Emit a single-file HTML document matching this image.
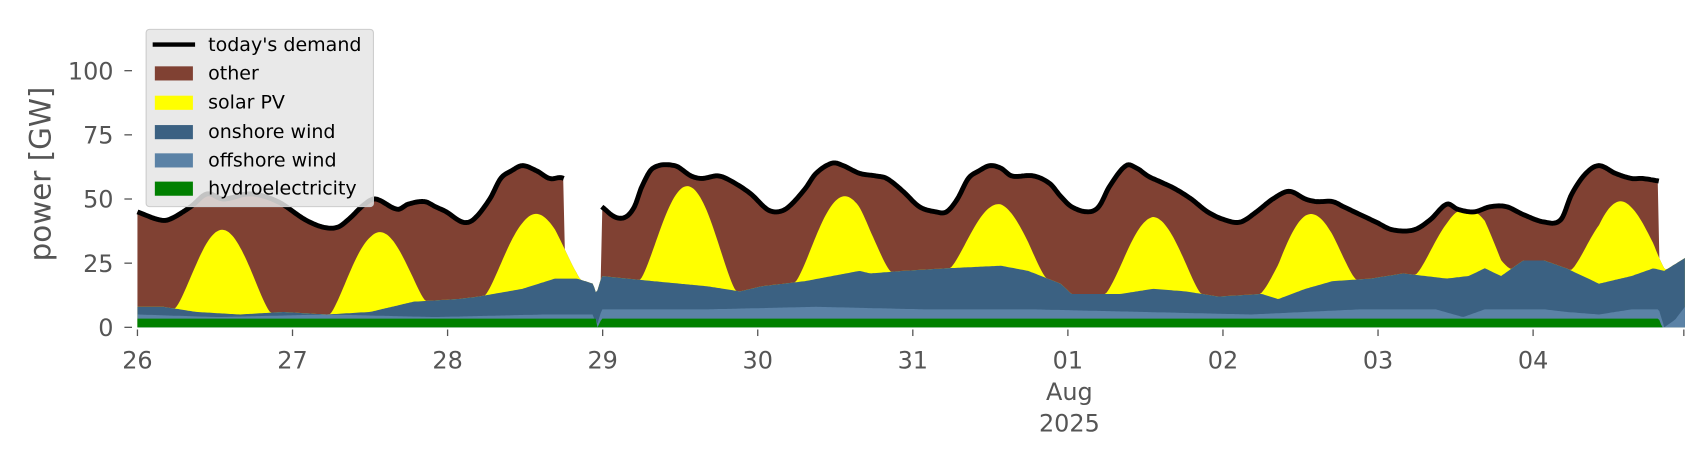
<!DOCTYPE html>
<html><head><meta charset="utf-8"><style>
html,body{margin:0;padding:0;background:#fff}
svg{display:block}
text{font-family:"DejaVu Sans","Liberation Sans",sans-serif}
</style></head><body>
<svg id="s" width="1706" height="460" viewBox="0 0 1568 423" xmlns="http://www.w3.org/2000/svg">
<g id="plot"></g>
<g fill="#555" font-size="22">
<g text-anchor="end">
<text x="104" y="309">0</text>
<text x="104" y="250">25</text>
<text x="104" y="191">50</text>
<text x="104" y="132">75</text>
<text x="104" y="73">100</text>
</g>
<g stroke="#555" stroke-width="1.2">
<line x1="114" y1="301" x2="121" y2="301"/><line x1="114" y1="242" x2="121" y2="242"/><line x1="114" y1="183" x2="121" y2="183"/><line x1="114" y1="124" x2="121" y2="124"/><line x1="114" y1="65" x2="121" y2="65"/>
</g>
<text transform="translate(46,160) rotate(-90)" text-anchor="middle" font-size="27">power [GW]</text>
<g id="xt" text-anchor="middle"></g>
<text x="983" y="368" text-anchor="middle">Aug</text>
<text x="983" y="397" text-anchor="middle">2025</text>
</g>
<g id="leg">
<rect x="134" y="27" width="209" height="163" rx="3" fill="#e5e5e5" fill-opacity="0.85" stroke="#cccccc" stroke-width="1"/>
<line x1="140" y1="41" x2="179" y2="41" stroke="#000" stroke-width="4"/>
<rect x="142" y="61" width="35" height="13" fill="#804133"/>
<rect x="142" y="88" width="35" height="13" fill="#ffff00"/>
<rect x="142" y="115" width="35" height="13" fill="#3b6182"/>
<rect x="142" y="141" width="35" height="13" fill="#5b82a6"/>
<rect x="142" y="167" width="35" height="13" fill="#008000"/>
<g font-size="17.5" fill="#000">
<text x="191" y="47">today's demand</text>
<text x="191" y="73">other</text>
<text x="191" y="100">solar PV</text>
<text x="191" y="127">onshore wind</text>
<text x="191" y="153">offshore wind</text>
<text x="191" y="179">hydroelectricity</text>
</g>
</g>
</svg>
<script>
(function(){
var NS="http://www.w3.org/2000/svg";
var X0=126,DAY=142.6,Y0=301,K=2.36;
function Y(v){return Y0-v*K;}
function interp(a,x){if(x<=a[0][0])return a[0][1];for(var i=1;i<a.length;i++){if(x<=a[i][0]){var t=(x-a[i-1][0])/(a[i][0]-a[i-1][0]);return a[i-1][1]+t*(a[i][1]-a[i-1][1]);}}return a[a.length-1][1];}
function spline(a,x){if(x<=a[0][0])return a[0][1];for(var i=1;i<a.length;i++){if(x<=a[i][0]){var x1=a[i-1][0],x2=a[i][0],y1=a[i-1][1],y2=a[i][1];var h=x2-x1,t=(x-x1)/h;
var m1=(i>=2)?(y2-a[i-2][1])/(x2-a[i-2][0]):(y2-y1)/h;var m2=(i+1<a.length)?(a[i+1][1]-y1)/(a[i+1][0]-x1):(y2-y1)/h;
if(x2-x1>30){m1=m2=(y2-y1)/h;}
var t2=t*t,t3=t2*t;return (2*t3-3*t2+1)*y1+(t3-2*t2+t)*h*m1+(-2*t3+3*t2)*y2+(t3-t2)*h*m2;}}return a[a.length-1][1];}
var dem=[[126,45],[145,42],[155,42],[175,47],[190,52],[205,50],[230,52],[255,49],[280,42],[297,39],[310,39],[320,42],[335,48],[345,50],[365,46],[375,48],[390,49],[400,47],[410,45],[425,41],[435,42],[450,50],[460,58],[470,61],[480,63],[493,61],[505,58],[518,58],
[553,47],[565,43],[575,43],[583,47],[590,55],[600,62],[620,63],[635,59],[645,58],[660,59],[672,57],[690,52],[705,46],[715,45],[725,47],[740,54],[750,60],[765,64],[775,63],[790,60],[805,59],[815,58],[830,53],[845,47],[860,45],[870,45],[880,50],[890,58],[900,61],[910,63],[920,62],[930,59],[950,59],[965,56],[975,51],[985,47],[1000,45],[1010,47],[1020,55],[1035,63],[1045,62],[1055,59],[1065,57],[1080,54],[1095,50],[1110,45],[1125,42],[1140,41],[1155,45],[1170,50],[1185,53],[1200,50],[1210,49],[1225,49],[1235,47],[1250,44],[1265,41],[1280,38],[1300,38],[1315,42],[1330,48],[1340,46],[1355,45],[1370,47],[1385,47],[1400,44],[1420,41],[1435,42],[1445,52],[1458,60],[1470,63],[1485,60],[1500,58],[1510,58],[1525,57]];
var ons=[[126,8],[150,8],[180,6],[220,5],[260,6],[300,5],[340,6],[380,10],[420,11],[440,12],[480,15],[510,19],[530,19],[545,17],[548,13],[553,20],[600,18],[650,16],[680,14],[700,16],[740,18],[790,22],[800,21],[830,22],[870,23],[920,24],[945,22],[975,17],[985,13],[1030,13],[1060,15],[1090,14],[1120,12],[1160,13],[1175,11],[1200,15],[1225,18],[1260,19],[1290,21],[1310,20],[1330,19],[1350,20],[1365,23],[1380,20],[1400,26],[1420,26],[1440,23],[1470,17],[1500,20],[1520,23],[1530,22],[1549,27]];
var off=[[126,5],[200,4],[300,5],[400,4],[500,5],[545,5],[548,0],[553,7],[650,7],[750,8],[850,7],[950,7],[1050,6],[1150,5],[1250,7],[1320,7],[1345,4],[1365,7],[1420,7],[1440,6],[1470,5],[1500,7],[1525,7],[1530,0],[1540,3],[1549,8]];
var hyd=[[126,3.4],[548,3.4],[549,0],[553,3.4],[1525,3.4],[1528,0],[1549,0]];
var peaks=[38,37,44,55,51,48,43,44,46,49];
function solar(x){var d=Math.floor((x-X0)/DAY);if(d<0||d>9)return 0;var f=(x-X0)/DAY-d;var u=(f-0.55)/0.31;if(Math.abs(u)>=1)return 0;var xp=X0+(d+0.55)*DAY;var P=peaks[d]-interp(ons,xp);if(P<0)P=0;return P*Math.pow(Math.cos(Math.PI/2*u),1.3);}
function H(x){return interp(hyd,x);}
function O(x){return Math.max(H(x),interp(off,x));}
function N(x){return Math.max(O(x),interp(ons,x));}
function S(x){return N(x)+solar(x);}
function D(x){if((x>518&&x<553)||x>1525)return S(x);return Math.max(S(x),spline(dem,x));}
function Z(x){return 0;}
var xs=[];for(var x=126;x<=1549;x+=1.5)xs.push(x);xs.push(1549);
var plot=document.getElementById("plot");
function add(parent,tag,attrs){var e=document.createElementNS(NS,tag);for(var k in attrs)e.setAttribute(k,attrs[k]);parent.appendChild(e);return e;}
function area(lo,hi,col){var p="";for(var i=0;i<xs.length;i++){p+=(i?"L":"M")+xs[i].toFixed(1)+","+Y(hi(xs[i])).toFixed(1);}for(var j=xs.length-1;j>=0;j--)p+="L"+xs[j].toFixed(1)+","+Y(lo(xs[j])).toFixed(1);add(plot,"path",{d:p+"Z",fill:col});}
area(Z,D,"#804133");
area(Z,S,"#ffff00");
area(Z,N,"#3b6182");
area(Z,O,"#5b82a6");
area(Z,H,"#008000");
function line(a,b){var p="";for(var x=a;x<=b;x+=1.5){p+=(p?"L":"M")+x.toFixed(1)+","+Y(spline(dem,x)).toFixed(1);}p+="L"+b+","+Y(spline(dem,b)).toFixed(1);add(plot,"path",{d:p,fill:"none",stroke:"#000","stroke-width":"4.5","stroke-linejoin":"round"});}
line(126,518);line(553,1525);
var xt=document.getElementById("xt");
var lab=["26","27","28","29","30","31","01","02","03","04"];
for(var i=0;i<lab.length;i++){var xx=X0+i*DAY;var t=add(xt,"text",{x:xx.toFixed(1),y:"339"});t.textContent=lab[i];add(xt,"line",{x1:xx.toFixed(1),y1:"303",x2:xx.toFixed(1),y2:"309",stroke:"#555","stroke-width":"1.2"});}
add(xt,"line",{x1:"1548",y1:"303",x2:"1548",y2:"309",stroke:"#555","stroke-width":"1.2"});
})();
</script>
</body></html>
